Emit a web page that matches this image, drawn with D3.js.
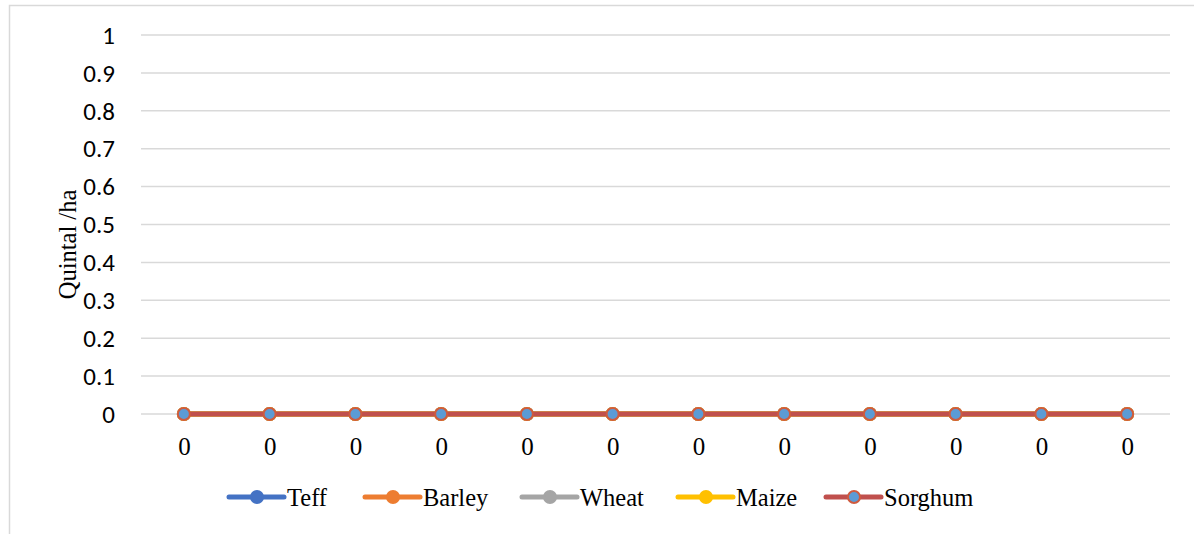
<!DOCTYPE html>
<html>
<head>
<meta charset="utf-8">
<script src="https://cdn.jsdelivr.net/npm/d3@7"></script>
<style>
  html, body { margin: 0; padding: 0; background: #fff; }
  svg { display: block; }
</style>
</head>
<body>
<svg id="chart" width="1194" height="534"></svg>
<script>
// Category labels along the x axis
const categories = ["0", "0", "0", "0", "0", "0", "0", "0", "0", "0", "0", "0"];

// Yield per crop (quintal/ha)
const teff    = [0, 0, 0, 0, 0, 0, 0, 0, 0, 0, 0, 0];
const barley  = [0, 0, 0, 0, 0, 0, 0, 0, 0, 0, 0, 0];
const wheat   = [0, 0, 0, 0, 0, 0, 0, 0, 0, 0, 0, 0];
const maize   = [0, 0, 0, 0, 0, 0, 0, 0, 0, 0, 0, 0];
const sorghum = [0, 0, 0, 0, 0, 0, 0, 0, 0, 0, 0, 0];

const seriesNames = ["Teff", "Barley", "Wheat", "Maize", "Sorghum"];
const yTicks = [0, 0.1, 0.2, 0.3, 0.4, 0.5, 0.6, 0.7, 0.8, 0.9, 1];

const SERIF = '"Liberation Serif"';
const SANS = '"Carlito"';

const series = [
  { name: seriesNames[0], values: teff,    line: "#4472C4", fill: "#4472C4", stroke: "#4472C4" },
  { name: seriesNames[1], values: barley,  line: "#ED7D31", fill: "#ED7D31", stroke: "#ED7D31" },
  { name: seriesNames[2], values: wheat,   line: "#A5A5A5", fill: "#A5A5A5", stroke: "#A5A5A5" },
  { name: seriesNames[3], values: maize,   line: "#FFC000", fill: "#FFC000", stroke: "#FFC000" },
  { name: seriesNames[4], values: sorghum, line: "#C0504D", fill: "#5B9BD5", stroke: "#CF5B3F" }
];

const svg = d3.select("#chart");

// outer chart frame
svg.append("rect")
  .attr("x", 9.5).attr("y", 5.5)
  .attr("width", 1194).attr("height", 540)
  .attr("fill", "#fff")
  .attr("stroke", "#D9D9D9").attr("stroke-width", 1.5);

const plot = { left: 141, right: 1170, top: 35, bottom: 414 };

const x = d3.scalePoint()
  .domain(d3.range(categories.length))
  .range([plot.left, plot.right])
  .padding(0.5);

const y = d3.scaleLinear()
  .domain([0, 1])
  .range([plot.bottom, plot.top]);

// gridlines
svg.append("g")
  .selectAll("line")
  .data(yTicks)
  .join("line")
  .attr("x1", plot.left).attr("x2", plot.right)
  .attr("y1", d => y(d)).attr("y2", d => y(d))
  .attr("stroke", "#D9D9D9").attr("stroke-width", 1.5);

// y axis labels
const yAxis = d3.axisLeft(y).tickValues(yTicks).tickSize(0).tickPadding(0)
  .tickFormat(d => d3.format("~g")(d));
const yg = svg.append("g").attr("transform", `translate(115,0)`).call(yAxis);
yg.select(".domain").remove();
yg.selectAll("text")
  .style("font-family", SANS)
  .style("font-size", "25px")
  .attr("fill", "#000")
  .attr("dy", "0.33em");

// x axis labels
const xAxis = d3.axisBottom(x).tickSize(0).tickPadding(0)
  .tickFormat(i => categories[i]);
const xg = svg.append("g").attr("transform", `translate(0,455)`).call(xAxis);
xg.select(".domain").remove();
xg.selectAll("text")
  .style("font-family", SERIF)
  .style("font-size", "25px")
  .attr("fill", "#000")
  .attr("dy", 0);

// y axis title
svg.append("text")
  .attr("transform", `translate(76,${(plot.top + plot.bottom) / 2 + 20}) rotate(-90)`)
  .attr("text-anchor", "middle")
  .style("font-family", SERIF)
  .style("font-size", "24.5px")
  .attr("fill", "#000")
  .text("Quintal /ha");

// series lines and markers
const line = d3.line().x((d, i) => x(i)).y(d => y(d));
series.forEach(s => {
  const g = svg.append("g");
  g.append("path")
    .datum(s.values)
    .attr("d", line)
    .attr("fill", "none")
    .attr("stroke", s.line)
    .attr("stroke-width", 5);
  g.selectAll("circle")
    .data(s.values)
    .join("circle")
    .attr("cx", (d, i) => x(i))
    .attr("cy", d => y(d))
    .attr("r", 6)
    .attr("fill", s.fill)
    .attr("stroke", s.stroke)
    .attr("stroke-width", 2);
});

// legend
const legendX = [229, 365, 522, 678, 826];
const legendY = 497;
const lg = svg.append("g")
  .selectAll("g")
  .data(series)
  .join("g")
  .attr("transform", (d, i) => `translate(${legendX[i]},${legendY})`);
lg.append("line")
  .attr("x1", 0).attr("x2", 55)
  .attr("stroke", d => d.line).attr("stroke-width", 5)
  .attr("stroke-linecap", "round");
lg.append("circle")
  .attr("cx", 28).attr("r", 6)
  .attr("fill", d => d.fill)
  .attr("stroke", d => d.stroke).attr("stroke-width", 2);
lg.append("text")
  .attr("x", 58).attr("y", 9)
  .style("font-family", SERIF)
  .style("font-size", "24.5px")
  .attr("fill", "#000")
  .text(d => d.name);
</script>
</body>
</html>
